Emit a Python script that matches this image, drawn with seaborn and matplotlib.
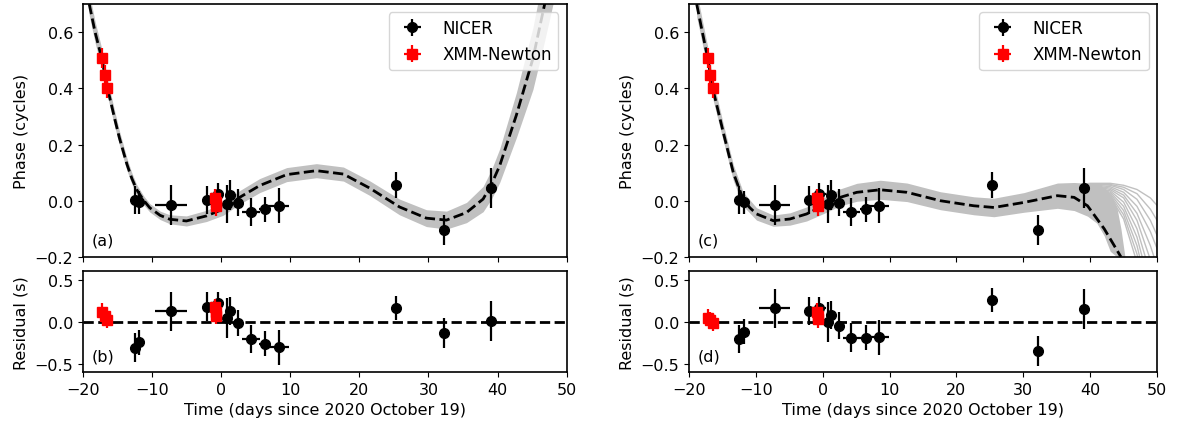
import numpy as np
import matplotlib
matplotlib.use("Agg")
import matplotlib.pyplot as plt
import seaborn as sns

# Phase / residual timing plots, two timing models side by side

# NICER points (days since 2020 Oct 19)
nicer_t = [-12.5, -11.8, -7.2, -2.0, -0.5, 0.8, 1.3, 2.4, 4.3, 6.4, 8.4, 25.3, 32.2, 39.0]
nicer_terr = [0.4, 0.4, 2.3, 0.4, 1.0, 0.4, 0.4, 0.4, 1.3, 0.9, 1.5, 0.4, 0.4, 0.4]
nicer_phase = [0.002, -0.006, -0.015, 0.002, 0.024, -0.012, 0.021, -0.008, -0.04, -0.03, -0.018, 0.056, -0.105, 0.045]
nicer_phase_err = [0.05, 0.04, 0.07, 0.05, 0.04, 0.068, 0.053, 0.048, 0.05, 0.045, 0.063, 0.045, 0.054, 0.07]
nicer_res_b = [-0.31, -0.245, 0.125, 0.18, 0.22, 0.04, 0.125, -0.015, -0.205, -0.265, -0.305, 0.165, -0.135, 0.012]
nicer_res_d = [-0.205, -0.12, 0.16, 0.13, 0.16, 0.0, 0.083, -0.048, -0.19, -0.19, -0.187, 0.26, -0.353, 0.15]
nicer_res_err = [0.17, 0.15, 0.23, 0.17, 0.14, 0.24, 0.17, 0.16, 0.17, 0.15, 0.21, 0.14, 0.18, 0.24]

# XMM-Newton points
xmm_t = [-17.2, -16.8, -16.45, -0.85, -0.75, -0.65]
xmm_terr = [0.15, 0.15, 0.15, 0.15, 0.15, 0.15]
xmm_phase = [0.508, 0.449, 0.40, 0.008, -0.006, -0.02]
xmm_phase_err = [0.035, 0.035, 0.035, 0.035, 0.035, 0.035]
xmm_res_b = [0.12, 0.07, 0.02, 0.17, 0.12, 0.07]
xmm_res_d = [0.05, 0.02, -0.01, 0.12, 0.07, 0.03]
xmm_res_err = [0.1, 0.1, 0.1, 0.1, 0.1, 0.1]

# model curve (a) and its spread
model_a_t = [-19.05, -18.2, -17.25, -16.4, -15.3, -14.7, -13.6, -12.9, -12.2, -11.2, -10.3, -8.8,
             -7.4, -5.0, -2.1, 0.3, 2.7, 5.6, 9.5, 13.8, 17.7, 21.5, 25.8, 29.7, 32.6, 35.5,
             37.9, 39.1, 40.3, 42.7, 45.1, 46.8, 48.0]
model_a = [0.70, 0.60, 0.508, 0.40, 0.285, 0.225, 0.13, 0.08, 0.04, 0.002, -0.025, -0.052,
           -0.066, -0.072, -0.054, -0.03, 0.012, 0.054, 0.093, 0.107, 0.095, 0.045, -0.022, -0.062,
           -0.069, -0.042, 0.006, 0.058, 0.125, 0.304, 0.506, 0.70, 0.84]
spread_a = [0.04, 0.038, 0.035, 0.03, 0.027, 0.025, 0.022, 0.02, 0.018, 0.016, 0.015, 0.015,
            0.016, 0.018, 0.02, 0.022, 0.024, 0.025, 0.025, 0.025, 0.025, 0.026, 0.028, 0.03,
            0.032, 0.036, 0.045, 0.052, 0.06, 0.08, 0.11, 0.13, 0.14]

# model curve (c)
model_c_t = [-18.85, -18.0, -17.2, -16.8, -16.45, -14.87, -13.37, -12.6, -11.9, -10.9, -9.9, -7.4,
             -4.9, -2.4, 0.1, 2.6, 5.1, 8.6, 12.6, 17.6, 22.6, 25.6, 30.1, 35.1, 37.6, 39.6,
             42.1, 44.6]
model_c = [0.70, 0.60, 0.508, 0.449, 0.40, 0.243, 0.10, 0.05, 0.006, -0.025, -0.047, -0.071,
           -0.065, -0.047, -0.018, 0.012, 0.03, 0.039, 0.03, 0.0, -0.018, -0.024, -0.006, 0.018,
           0.012, -0.018, -0.10, -0.20]
band_c_t = [-18.85, -18.0, -17.2, -16.8, -16.45, -14.87, -13.37, -11.9, -9.9, -7.4, -4.9, -2.4,
            0.1, 2.6, 5.1, 8.6, 12.6, 17.6, 22.6, 25.6, 30.1, 35.1, 37.6, 39.6, 41.0, 42.1,
            43.0, 44.0, 44.6, 45.2]
band_c_hi = [0.745, 0.642, 0.548, 0.487, 0.436, 0.273, 0.128, 0.031, -0.025, -0.051, -0.043, -0.022,
             0.01, 0.042, 0.062, 0.073, 0.063, 0.032, 0.014, 0.009, 0.029, 0.063, 0.065, 0.062,
             0.057, 0.047, 0.025, -0.025, -0.1, -0.2]
band_c_lo = [0.655, 0.558, 0.468, 0.411, 0.364, 0.213, 0.072, -0.019, -0.069, -0.091, -0.087, -0.072,
             -0.046, -0.018, -0.002, 0.005, -0.003, -0.032, -0.05, -0.057, -0.041, -0.027, -0.035,
             -0.055, -0.08, -0.125, -0.18, -0.2, -0.2, -0.2]

# a few of the diverging model samples at late times in (c)
fan_t = [36.0, 40.0, 43.0, 45.0, 47.0, 49.0, 50.5]
fan_lines = [
    [0.05, 0.062, 0.062, 0.055, 0.04, 0.01, -0.03],
    [0.05, 0.06, 0.058, 0.048, 0.025, -0.03, -0.09],
    [0.05, 0.06, 0.055, 0.04, 0.005, -0.07, -0.15],
    [0.05, 0.058, 0.05, 0.03, -0.02, -0.11, -0.2],
    [0.05, 0.056, 0.045, 0.02, -0.045, -0.16, -0.27],
    [0.048, 0.055, 0.04, 0.01, -0.07, -0.21, -0.33],
    [0.046, 0.052, 0.035, -0.005, -0.1, -0.26, -0.4],
    [0.045, 0.05, 0.03, -0.02, -0.13, -0.31, -0.46],
    [0.044, 0.048, 0.025, -0.035, -0.16, -0.36, -0.52],
    [0.043, 0.046, 0.02, -0.05, -0.19, -0.41, -0.58],
    [0.042, 0.044, 0.015, -0.065, -0.22, -0.46, -0.64],
]

band_col = '#c0c0c0'

fig = plt.figure(figsize=(11.91, 4.27), dpi=100)
sns.set_style('ticks')
plt.rcParams['font.family'] = ['DejaVu Sans']
plt.rcParams['font.size'] = 11.5
for k in ['text.color', 'axes.labelcolor', 'xtick.color', 'ytick.color', 'axes.edgecolor']:
    plt.rcParams[k] = 'black'

ax_a = fig.add_axes([0.0694, 0.396, 0.4065, 0.592])
ax_b = fig.add_axes([0.0694, 0.1265, 0.4065, 0.2355], sharex=ax_a)
ax_c = fig.add_axes([0.5785, 0.396, 0.393, 0.592])
ax_d = fig.add_axes([0.5785, 0.1265, 0.393, 0.2355], sharex=ax_c)


def draw_points(ax, y_nicer, yerr_nicer, y_xmm, yerr_xmm, label=True):
    ax.errorbar(nicer_t, y_nicer, xerr=nicer_terr, yerr=yerr_nicer, fmt='o', color='k',
                ms=7, elinewidth=1.6, capsize=0, zorder=5, label='NICER' if label else None)
    ax.errorbar(xmm_t, y_xmm, xerr=xmm_terr, yerr=yerr_xmm, fmt='s', color='red',
                ms=7, elinewidth=1.6, capsize=0, zorder=6, label='XMM-Newton' if label else None)


# panel (a)
lo_a = np.array(model_a) - np.array(spread_a)
hi_a = np.array(model_a) + np.array(spread_a)
ax_a.fill_between(model_a_t, lo_a, hi_a, color=band_col, lw=0, zorder=1)
sns.lineplot(x=model_a_t, y=model_a, ax=ax_a, color='k', linestyle='--', lw=2, zorder=3)
draw_points(ax_a, nicer_phase, nicer_phase_err, xmm_phase, xmm_phase_err)

# panel (c)
ax_c.fill_between(band_c_t, band_c_lo, band_c_hi, color=band_col, lw=0, zorder=1)
for fy in fan_lines:
    sns.lineplot(x=fan_t, y=fy, ax=ax_c, color=band_col, lw=1, zorder=1)
sns.lineplot(x=model_c_t, y=model_c, ax=ax_c, color='k', linestyle='--', lw=2, zorder=3)
draw_points(ax_c, nicer_phase, nicer_phase_err, xmm_phase, xmm_phase_err)

# residual panels
for ax, rn, rx in [(ax_b, nicer_res_b, xmm_res_b), (ax_d, nicer_res_d, xmm_res_d)]:
    ax.axhline(0, color='k', ls='--', lw=2, zorder=2)
    draw_points(ax, rn, nicer_res_err, rx, xmm_res_err, label=False)

for ax, tag in [(ax_a, '(a)'), (ax_c, '(c)')]:
    ax.set_xlim(-20, 50)
    ax.set_ylim(-0.2, 0.7)
    ax.set_yticks([-0.2, 0.0, 0.2, 0.4, 0.6])
    ax.set_ylabel('Phase (cycles)')
    ax.tick_params(labelbottom=False)
    ax.text(0.018, 0.05, tag, transform=ax.transAxes, fontsize=11.5)
    ax.legend(loc='upper right', fontsize=12)

for ax, tag in [(ax_b, '(b)'), (ax_d, '(d)')]:
    ax.set_xlim(-20, 50)
    ax.set_ylim(-0.6, 0.6)
    ax.set_yticks([-0.5, 0.0, 0.5])
    ax.set_xticks([-20, -10, 0, 10, 20, 30, 40, 50])
    ax.set_ylabel('Residual (s)')
    ax.set_xlabel('Time (days since 2020 October 19)')
    ax.text(0.018, 0.11, tag, transform=ax.transAxes, fontsize=11.5)

for ax in [ax_a, ax_b, ax_c, ax_d]:
    for s in ax.spines.values():
        s.set_linewidth(1.2)
        s.set_color('black')
    ax.tick_params(labelsize=11.5, colors='black')

fig.align_ylabels([ax_a, ax_b])
fig.align_ylabels([ax_c, ax_d])

fig.savefig('out.png', dpi=100)
